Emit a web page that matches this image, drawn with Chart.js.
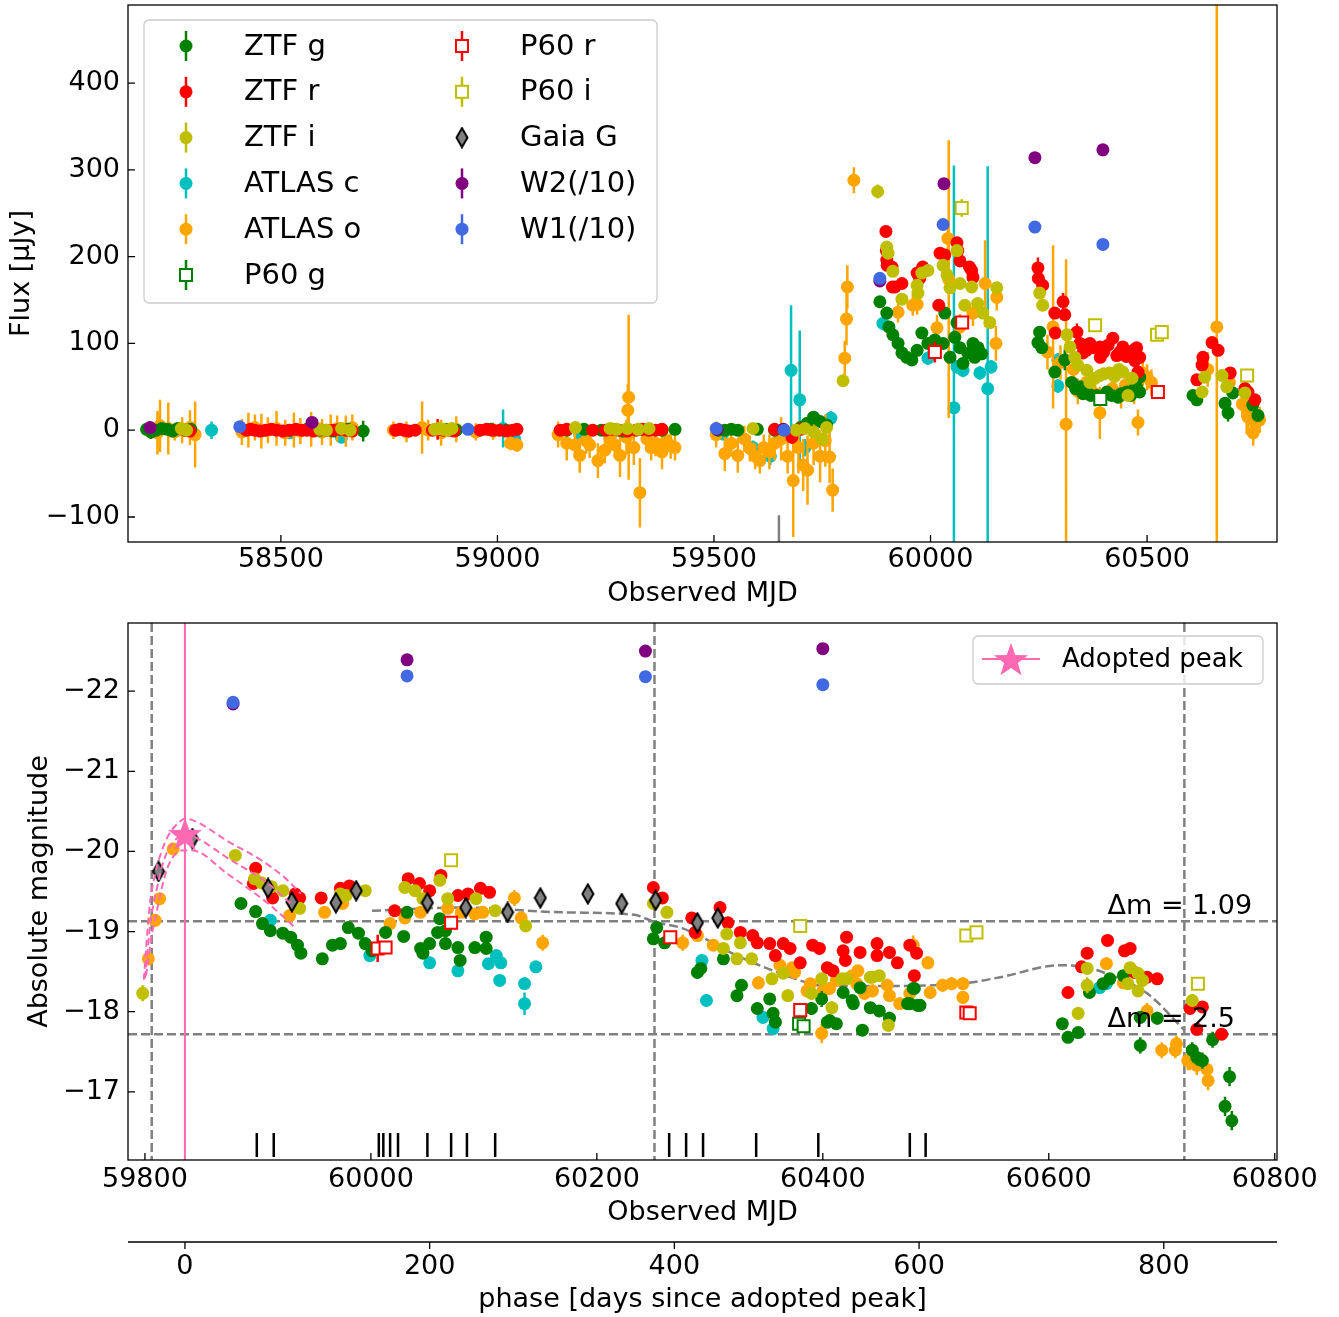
<!DOCTYPE html>
<html>
<head>
<meta charset="utf-8">
<title>Light curve: flux and absolute magnitude</title>
<script src="https://cdn.jsdelivr.net/npm/chart.js"></script>
<style>
  body { margin: 0; background: #ffffff; }
  #wrap { position: relative; width: 1339px; height: 1317px; }
  #wrap canvas { position: absolute; left: 0; }
</style>
</head>
<body>
<div id="wrap">
  <canvas id="fluxChart" width="1339" height="612" style="top:0px"></canvas>
  <canvas id="magChart" width="1339" height="717" style="top:600px"></canvas>
</div>
<script>
// ---------- top panel: flux in uJy, rows are [MJD, flux, error] ----------
const ztfG_flux = [[58190,1,4],[58200,-2,8],[58212,0,5],[58225,2,4],[58238,1,4],[58250,-1,4],[58262,2,5],[58280,0,4],[58292,1,4],
  [58520,0,4],[58560,1,4],[58590,0,5],[58620,-1,4],[58655,1,5],[58690,-1,12],
  [58880,1,4],[58905,0,4],[58985,1,5],[59020,0,4],
  [59160,0,4],[59200,1,4],[59240,0,4],[59290,-1,4],[59330,1,4],[59380,0,4],[59410,1,4],
  [59510,0,4],[59525,0,4],[59540,1,4],[59555,0,4],[59600,1,4],[59640,0,4],[59700,3,5],[59715,8,5],[59730,15,5],[59745,10,5],[59760,6,5],
  [59883,148,4],[59899,135,4],[59904,119,4],[59913,110,4],[59925,100,4],[59934,89,4],[59945,84,4],[59957,81,4],[59969,92,4],[59980,112,6],
  [59994,100,4],[60010,104,4],[60029,100,5],[60033,135,6],[60045,84,5],[60056,107,5],[60061,124,5],[60068,95,5],[60075,77,5],[60086,89,5],
  [60098,100,5],[60102,84,5],[60110,95,5],[60118,88,5],
  [60248,101,5],[60252,113,5],[60257,95,5],[60287,67,5],[60310,81,12],[60326,55,5],[60335,48,5],[60345,50,5],[60352,42,5],[60361,44,5],
  [60370,40,5],[60384,40,5],[60395,38,5],[60407,44,5],[60418,40,5],[60433,38,5],[60440,42,5],[60453,44,5],[60462,40,5],[60470,47,5],
  [60476,50,5],[60483,61,5],[60483,44,5],
  [60606,40,5],[60615,35,5],[60680,31,5],[60687,20,10],[60698,43,5],[60744,29,6],[60756,17,6]];
const ztfR_flux = [[58280,0,4],[58290,-1,4],
  [58420,0,4],[58430,1,4],[58440,0,4],[58452,-1,4],[58465,0,4],[58478,1,4],[58490,0,4],[58505,-1,4],[58520,0,4],[58535,1,4],
  [58548,0,4],[58560,0,4],[58575,-1,4],[58590,1,4],[58605,0,4],[58620,0,4],[58635,1,4],[58650,0,4],[58665,-1,4],
  [58765,0,4],[58775,1,4],[58785,0,4],[58795,-1,4],[58810,0,4],[58850,0,4],[58862,1,12],[58875,0,4],[58890,0,4],[58900,-1,4],
  [58960,0,4],[58975,1,4],[58990,0,4],[59005,0,4],[59020,-1,4],[59035,0,4],[59045,1,4],
  [59145,0,4],[59160,1,4],[59220,0,4],[59250,0,4],[59265,1,4],[59280,0,4],[59300,-1,4],[59320,0,4],[59335,1,4],[59350,0,4],[59365,0,4],[59380,1,4],
  [59640,1,4],[59680,-8,8],[59700,1,4],
  [59897,229,5],[59898,207,5],[59899,196,5],[59900,190,5],[59911,188,5],[59912,165,5],[59918,165,5],[59934,169,5],[59969,181,5],[59975,175,5],
  [59982,188,5],[60019,144,6],[60022,204,6],[60033,202,6],[60061,216,6],[60063,207,6],[60068,195,6],[60090,188,6],[60095,184,6],[60098,176,6],
  [60248,187,12],[60249,175,6],[60259,167,6],[60287,135,6],[60288,112,6],[60306,148,10],[60310,133,6],[60338,113,10],[60345,100,6],[60352,89,6],
  [60360,92,6],[60368,100,6],[60375,95,6],[60391,96,6],[60392,84,6],[60400,90,6],[60410,98,6],[60421,106,6],[60430,86,6],[60437,90,6],
  [60444,96,6],[60452,85,6],[60460,89,6],[60468,92,6],[60472,80,6],[60476,95,6],[60479,67,6],[60483,84,6],
  [60615,58,5],[60627,75,5],[60629,84,5],[60650,101,5],[60664,92,5],[60692,66,5],[60726,48,5],[60733,44,5],[60749,35,5]];
const ztfI_flux = [[58270,2,4],[58282,0,4],[58590,1,4],[58605,0,4],[58640,2,4],[58660,0,4],
  [58855,1,4],[58865,2,4],[58875,1,4],[58885,0,4],[58895,2,4],
  [59180,3,4],[59260,2,4],[59275,1,4],[59300,2,4],[59325,1,4],[59350,2,4],
  [59590,2,4],[59660,1,4],[59690,0,4],[59710,2,4],[59730,-2,4],[59750,-10,4],[59760,3,4],
  [59798,57,5],[59878,275,8],
  [59899,211,5],[59902,204,5],[59913,183,5],[59934,151,5],[59969,167,5],[59971,158,5],[59980,181,5],[59994,184,5],[60029,190,5],[60038,179,5],
  [60045,164,5],[60061,207,5],[60068,169,5],[60079,144,5],[60095,165,5],[60109,146,5],[60121,135,5],[60137,124,5],[60153,164,5],
  [60252,158,5],[60259,144,5],[60315,110,5],[60322,96,5],[60333,84,5],[60340,75,5],[60361,69,5],[60368,55,5],[60380,60,5],[60391,63,5],
  [60400,65,5],[60414,66,5],[60425,62,5],[60435,70,5],[60444,67,5],[60456,40,5],[60465,60,5],
  [60627,44,5],[60633,61,5],[60673,63,5],[60684,50,5],[60726,43,5]];
const atlasC_flux = [[58340,0,10],[58520,-3,6],[58640,-8,6],[59013,2,22],[59040,-10,8],[59190,-5,8],[59260,-8,8],[59520,-4,8],[59590,-20,8],
  [59630,-30,10],[59678,69,75],[59698,35,80],[59710,-20,10],[59770,14,8],[59890,123,8],[59994,83,8],[60054,26,279],[60061,73,8],[60075,69,8],
  [60114,66,8],[60132,48,256],[60140,73,8],[60294,81,8],[60294,51,8]];
const atlasO_flux = [[58198,0,10],[58215,-3,25],[58221,5,30],[58240,2,30],[58255,-2,10],[58272,0,15],[58290,3,20],[58302,-5,38],
  [58410,-2,15],[58425,0,20],[58440,3,15],[58455,-1,20],[58470,0,15],[58490,2,20],[58510,-3,15],[58530,0,20],[58545,-1,15],[58570,1,20],
  [58595,-2,15],[58615,0,18],[58630,2,15],[58650,-1,18],[58665,3,15],
  [58760,0,10],[58790,-2,12],[58826,3,30],[58840,0,12],[58870,-3,15],[58905,1,15],[58950,-2,10],[58990,-1,10],[59030,-15,8],[59045,-17,8],
  [59140,-5,15],[59160,-15,20],[59179,-17,15],[59190,-29,20],[59205,-12,15],[59213,-17,15],[59232,-35,20],[59248,-23,15],[59260,-10,15],
  [59271,-17,15],[59283,-29,25],[59298,-8,20],[59301,23,30],[59303,38,95],[59315,-20,20],[59329,-72,40],[59345,-10,15],[59355,-20,15],
  [59365,-15,15],[59380,-25,20],[59390,-12,15],[59400,-18,15],[59410,-20,15],
  [59505,-5,15],[59525,-27,20],[59540,-15,15],[59555,-29,20],[59570,-10,15],[59583,-21,15],[59595,-30,15],[59606,-35,15],[59615,-20,15],
  [59628,-25,20],[59640,-15,20],[59655,-10,25],[59670,-30,20],[59683,-58,65],[59695,-20,30],[59706,-40,30],[59716,-46,40],[59730,-15,25],
  [59745,-30,30],[59757,-12,30],[59767,-31,30],[59774,-69,25],
  [59802,83,20],[59806,128,30],[59808,165,25],[59823,288,15],
  [59925,136,12],[59959,144,12],[59969,145,12],[60015,118,15],[60040,221,20],[60042,174,160],[60068,119,15],[60098,135,15],[60126,169,50],
  [60151,100,20],[60153,153,15],
  [60270,90,20],[60283,119,94],[60300,78,20],[60313,7,190],[60330,70,15],[60340,45,15],[60360,55,15],[60380,42,15],[60391,20,30],[60420,48,15],
  [60440,40,15],[60450,52,15],[60470,45,15],[60479,9,15],[60490,66,15],[60500,61,15],[60510,55,15],
  [60640,70,20],[60661,119,380],[60690,55,15],[60720,30,15],[60730,25,30],[60733,15,20],[60745,-3,15],[60750,8,15],[60760,12,15]];
const p60g_flux = [[60392,36,4]];
const p60r_flux = [[60010,90,12],[60073,124,6],[60525,44,4]];
const p60i_flux = [[60072,256,10],[60380,121,5],[60523,110,4],[60534,113,4],[60731,63,4]];
const gaia_flux = [[59650,-160,62]];
const w2_flux = [[58198,3,0],[58572,9,0],[59507,1,0],[59660,1,0],[59883,172,0],[60031,284,0],[60241,314,0],[60398,323,0]];
const w1_flux = [[58405,4,0],[58932,1,0],[59505,2,0],[59662,0,0],[59883,175,0],[60029,237,0],[60241,234,0],[60398,214,0]];

// ---------- bottom panel: absolute magnitude, rows are [MJD, mag, error] ----------
const ztfG_mag = [[59885,-19.35,0.04],[59898,-19.25,0.04],[59904,-19.10,0.04],[59911,-19.01,0.04],[59922,-18.98,0.04],[59929,-18.93,0.04],
  [59935,-18.83,0.04],[59938,-18.73,0.04],[59957,-18.66,0.05],[59966,-18.83,0.04],[59973,-18.85,0.04],[59980,-19.05,0.04],[59989,-18.98,0.04],
  [59995,-18.85,0.04],[60001,-18.76,0.05],[60013,-18.99,0.05],[60029,-18.94,0.05],[60032,-19.24,0.05],[60044,-18.79,0.05],[60046,-18.73,0.05],
  [60052,-18.85,0.05],[60059,-18.99,0.06],[60061,-19.16,0.05],[60066,-19.01,0.05],[60066,-18.85,0.08],[60077,-18.80,0.05],[60079,-18.64,0.05],
  [60092,-18.80,0.05],[60102,-18.93,0.05],[60102,-18.79,0.07],
  [60250,-18.91,0.04],[60253,-19.05,0.04],[60260,-18.86,0.04],[60289,-18.49,0.04],[60292,-18.54,0.04],[60312,-18.66,0.05],[60324,-18.20,0.05],
  [60328,-18.33,0.05],[60342,-18.04,0.06],[60353,-18.16,0.06],[60356,-17.98,0.06],[60358,-17.87,0.06],[60381,-17.85,0.06],[60390,-18.04,0.08],
  [60399,-18.16,0.1],[60404,-17.87,0.06],[60406,-17.89,0.06],[60412,-17.85,0.06],[60418,-18.24,0.07],[60426,-18.14,0.06],[60427,-18.10,0.06],
  [60433,-18.30,0.06],[60435,-17.77,0.06],[60442,-18.05,0.06],[60450,-18.01,0.06],[60459,-17.92,0.08],[60475,-18.10,0.08],[60477,-18.10,0.08],
  [60480,-18.29,0.06],[60481,-18.29,0.06],[60484,-18.08,0.08],[60486,-18.08,0.08],
  [60612,-17.85,0.06],[60617,-17.68,0.06],[60626,-17.74,0.06],[60636,-18.24,0.06],[60648,-18.35,0.06],[60654,-18.41,0.06],[60666,-18.45,0.06],
  [60681,-17.93,0.08],[60681,-17.58,0.1],[60696,-17.92,0.08],[60727,-17.52,0.1],[60731,-17.43,0.1],[60736,-17.39,0.1],[60745,-17.65,0.1],
  [60760,-17.19,0.12],[60756,-16.82,0.12],[60762,-16.64,0.12]];
const ztfR_mag = [[59898,-19.79,0.03],[59897,-19.64,0.03],[59896,-19.60,0.03],[59913,-19.42,0.03],[59933,-19.47,0.03],[59937,-19.42,0.03],
  [59956,-19.42,0.03],[59973,-19.54,0.03],[59981,-19.57,0.03],[60021,-19.26,0.04],[60033,-19.66,0.03],[60043,-19.60,0.03],[60052,-19.51,0.03],
  [60062,-19.70,0.03],[60077,-19.45,0.03],[60086,-19.47,0.03],[60097,-19.54,0.03],[60105,-19.49,0.03],
  [60250,-19.55,0.03],[60258,-19.42,0.03],[60284,-19.17,0.04],[60287,-18.99,0.04],[60309,-19.30,0.05],[60316,-19.11,0.04],[60327,-18.99,0.04],
  [60338,-18.95,0.06],[60342,-18.86,0.04],[60353,-18.85,0.04],[60358,-18.70,0.06],[60365,-18.85,0.04],[60371,-18.79,0.04],[60380,-18.61,0.04],
  [60391,-18.83,0.06],[60397,-18.79,0.04],[60404,-18.55,0.04],[60409,-18.51,0.04],[60418,-18.76,0.04],[60420,-18.64,0.04],[60421,-18.93,0.04],
  [60433,-18.74,0.04],[60448,-18.85,0.04],[60448,-18.70,0.04],[60459,-18.74,0.04],[60466,-18.61,0.04],[60477,-18.83,0.04],[60481,-18.45,0.04],
  [60483,-18.73,0.04],
  [60617,-18.24,0.04],[60629,-18.56,0.05],[60634,-18.73,0.04],[60652,-18.89,0.04],[60667,-18.76,0.04],[60672,-18.79,0.04],[60676,-18.49,0.04],
  [60687,-18.43,0.04],[60696,-18.41,0.05],[60725,-18.04,0.06],[60731,-17.78,0.06],[60736,-18.06,0.06],[60753,-17.72,0.06]];
const ztfI_mag = [[59798,-18.23,0.1],[59880,-19.95,0.03],[59897,-19.66,0.03],[59903,-19.61,0.03],[59912,-19.56,0.03],[59922,-19.51,0.03],
  [59937,-19.29,0.03],[59973,-19.47,0.03],[59978,-19.45,0.03],[59995,-19.51,0.03],[60030,-19.55,0.03],[60039,-19.51,0.03],[60046,-19.41,0.03],
  [60061,-19.64,0.03],[60068,-19.41,0.03],[60093,-19.41,0.03],[60110,-19.26,0.03],[60137,-19.07,0.04],
  [60250,-19.35,0.04],[60262,-19.24,0.04],[60315,-18.97,0.05],[60327,-18.86,0.05],[60312,-18.79,0.05],[60324,-18.66,0.06],[60337,-18.66,0.06],
  [60355,-18.41,0.06],[60365,-18.48,0.06],[60369,-18.20,0.08],[60390,-18.23,0.08],[60399,-18.41,0.06],[60408,-18.05,0.08],[60417,-18.41,0.06],
  [60421,-18.41,0.06],[60442,-18.43,0.06],[60444,-18.43,0.06],[60450,-18.45,0.06],[60458,-17.83,0.08],
  [60626,-17.98,0.08],[60634,-18.33,0.1],[60634,-18.54,0.06],[60670,-18.35,0.06],[60672,-18.55,0.06],[60679,-18.48,0.06],[60679,-18.26,0.06],
  [60683,-18.39,0.06],[60727,-18.14,0.08]];
const atlasC_mag = [[59911,-19.14,0.05],[59999,-18.70,0.06],[60052,-18.61,0.06],[60077,-18.51,0.06],[60104,-18.60,0.06],[60111,-18.70,0.06],
  [60115,-18.61,0.06],[60114,-18.39,0.07],[60136,-18.35,0.08],[60136,-18.10,0.14],[60146,-18.56,0.06],[60293,-18.64,0.07],[60297,-18.14,0.08],
  [60347,-17.93,0.08],[60356,-17.79,0.08],[60645,-18.30,0.06],[60651,-18.35,0.06]];
const atlasO_mag = [[59803,-18.66,0.08],[59809,-19.14,0.08],[59813,-19.41,0.06],[59825,-20.03,0.05],[59928,-19.20,0.05],[59959,-19.24,0.05],
  [59975,-19.35,0.05],[60017,-19.10,0.06],[60030,-19.17,0.05],[60044,-19.24,0.05],[60068,-19.29,0.05],[60080,-19.24,0.05],[60092,-19.22,0.05],
  [60099,-19.24,0.05],[60127,-19.42,0.1],[60133,-19.17,0.06],[60152,-18.86,0.1],
  [60276,-18.86,0.1],[60289,-18.95,0.06],[60303,-18.83,0.06],[60343,-18.36,0.08],[60362,-18.58,0.06],[60373,-18.55,0.06],[60375,-18.49,0.06],
  [60386,-18.26,0.08],[60389,-18.35,0.06],[60399,-17.73,0.12],[60400,-18.26,0.08],[60406,-18.29,0.08],[60412,-18.39,0.06],[60426,-18.45,0.06],
  [60430,-18.35,0.08],[60431,-18.51,0.06],[60437,-18.23,0.08],[60444,-18.26,0.08],[60457,-18.33,0.08],[60459,-18.20,0.08],[60468,-18.10,0.08],
  [60477,-18.23,0.08],[60480,-18.83,0.12],[60493,-18.61,0.08],[60495,-18.24,0.08],[60506,-18.33,0.08],[60514,-18.35,0.08],[60524,-18.18,0.08],
  [60524,-18.35,0.08],
  [60651,-18.60,0.08],[60666,-18.36,0.08],[60687,-18.01,0.1],[60700,-17.52,0.1],[60712,-17.52,0.1],[60713,-17.60,0.1],[60723,-17.39,0.12],
  [60725,-17.39,0.12],[60731,-17.33,0.12],[60740,-17.28,0.12],[60741,-17.14,0.12]];
const p60g_mag = [[60379,-17.85,0.03],[60383,-17.82,0.03]];
const p60r_mag = [[60006,-18.79,0.17],[60013,-18.80,0.05],[60071,-19.11,0.03],[60265,-18.93,0.03],[60380,-18.02,0.03],[60527,-17.99,0.03],[60530,-17.98,0.03]];
const p60i_mag = [[60071,-19.89,0.03],[60380,-19.07,0.03],[60527,-18.95,0.03],[60536,-18.99,0.03],[60732,-18.35,0.03]];
const gaia_mag = [[59812,-19.75,0],[59842,-20.16,0],[59909,-19.54,0],[59930,-19.37,0],[59969,-19.36,0],[59987,-19.51,0],[60050,-19.36,0],
  [60084,-19.30,0],[60121,-19.24,0],[60150,-19.42,0],[60192,-19.47,0],[60222,-19.35,0],[60252,-19.39,0],[60289,-19.11,0],[60307,-19.17,0]];
const w2_mag = [[59878,-21.84,0],[60032,-22.39,0],[60243,-22.50,0],[60400,-22.53,0]];
const w1_mag = [[59878,-21.86,0],[60032,-22.19,0],[60243,-22.18,0],[60400,-22.08,0]];

// model curves, [MJD, mag]
const modelCurve = [[60001,-19.26],[60082,-19.30],[60169,-19.24],[60233,-19.21],[60251,-19.12],[60276,-19.04],[60327,-18.68],[60380,-18.39],
  [60395,-18.33],[60450,-18.32],[60528,-18.36],[60557,-18.43],[60610,-18.58],[60627,-18.57],[60654,-18.46],[60687,-18.23],[60720,-17.77]];
const peakBandHi = [[59799,-18.40],[59804,-19.30],[59809,-19.72],[59814,-19.97],[59820,-20.18],[59827,-20.32],[59836,-20.41],[59847,-20.36],
  [59873,-20.13],[59903,-19.89],[59924,-19.67],[59938,-19.47]];
const peakBandMid = [[59800,-18.42],[59805,-19.12],[59810,-19.50],[59817,-19.90],[59826,-20.13],[59836,-20.22],[59848,-20.15],[59873,-19.92],
  [59909,-19.60],[59929,-19.35]];
const peakBandLo = [[59801,-18.45],[59806,-18.95],[59810,-19.22],[59815,-19.55],[59820,-19.80],[59826,-19.95],[59832,-20.01],[59842,-20.01],
  [59873,-19.72],[59909,-19.35],[59933,-19.05]];

const peakMJD = 59835.4;
const peakMag = -20.22;
const redshift = 0.083;
const epochLines = [59806, 60251, 60720];
const deltaMags = [1.09, 2.5];
const deltaLabelMJD = 60652;
const spectraMJD = [59899, 59914, 60007, 60011, 60017, 60024, 60050, 60071, 60085, 60110, 60264, 60279, 60294, 60341, 60396, 60477, 60491];

const fluxTicks = [-100, 0, 100, 200, 300, 400];
const fluxMjdTicks = [58500, 59000, 59500, 60000, 60500];
const magTicks = [-22, -21, -20, -19, -18, -17];
const magMjdTicks = [59800, 60000, 60200, 60400, 60600, 60800];
const phaseTicks = [0, 200, 400, 600, 800];

Chart.defaults.font.family = "'DejaVu Sans', sans-serif";
Chart.defaults.font.size = 27;
Chart.defaults.color = '#000';

const FONT = "'DejaVu Sans', sans-serif";
const fmt = v => (v < 0 ? '\u2212' + Math.abs(v) : String(v));

// thin diamond marker for Gaia
function thinDiamond() {
  const c = document.createElement('canvas');
  c.width = 14; c.height = 22;
  const g = c.getContext('2d');
  g.beginPath();
  g.moveTo(7, 1.5); g.lineTo(12.5, 11); g.lineTo(7, 20.5); g.lineTo(1.5, 11); g.closePath();
  g.fillStyle = '#808080'; g.fill();
  g.lineWidth = 2; g.strokeStyle = '#000'; g.stroke();
  return c;
}
// five pointed star for the adopted peak
function starMarker(R) {
  const size = Math.ceil(2 * R + 4);
  const c = document.createElement('canvas');
  c.width = c.height = size;
  const g = c.getContext('2d');
  const cx = size / 2, cy = size / 2 + R * 0.1;
  g.beginPath();
  for (let k = 0; k < 10; k++) {
    const r = k % 2 ? R * 0.4 : R;
    const t = -Math.PI / 2 + k * Math.PI / 5;
    g.lineTo(cx + r * Math.cos(t), cy + r * Math.sin(t));
  }
  g.closePath();
  g.fillStyle = '#ff69b4'; g.fill();
  return c;
}
const gaiaImg = thinDiamond();
const starImg = starMarker(18);

// draw order: first in this list is drawn first (bottom)
const series = [
  {label: 'ATLAS c', color: '#00bfbf', flux: atlasC_flux, mag: atlasC_mag},
  {label: 'ATLAS o', color: '#ffa500', flux: atlasO_flux, mag: atlasO_mag},
  {label: 'ZTF g', color: '#008000', flux: ztfG_flux, mag: ztfG_mag},
  {label: 'ZTF r', color: '#ff0000', flux: ztfR_flux, mag: ztfR_mag},
  {label: 'ZTF i', color: '#bfbf00', flux: ztfI_flux, mag: ztfI_mag},
  {label: 'P60 g', color: '#008000', square: true, flux: p60g_flux, mag: p60g_mag},
  {label: 'P60 r', color: '#ff0000', square: true, flux: p60r_flux, mag: p60r_mag},
  {label: 'P60 i', color: '#bfbf00', square: true, flux: p60i_flux, mag: p60i_mag},
  {label: 'Gaia G', color: '#808080', diamond: true, flux: gaia_flux, mag: gaia_mag},
  {label: 'W2(/10)', color: '#800080', flux: w2_flux, mag: w2_mag},
  {label: 'W1(/10)', color: '#4169e1', flux: w1_flux, mag: w1_mag}
];
const legendOrder = ['ZTF g', 'ZTF r', 'ZTF i', 'ATLAS c', 'ATLAS o', 'P60 g', 'P60 r', 'P60 i', 'Gaia G', 'W2(/10)', 'W1(/10)'];

function pointSets(key) {
  return series.map((s, i) => ({
    type: 'scatter',
    label: s.label,
    data: s[key].map(r => ({x: r[0], y: r[1], e: r[2]})),
    pointStyle: s.diamond ? gaiaImg : (s.square ? 'rect' : 'circle'),
    pointRadius: s.square ? 8.5 : 6.5,
    backgroundColor: s.square ? '#ffffff' : s.color,
    borderColor: s.color,
    borderWidth: s.square ? 2 : 0,
    errColor: s.color,
    order: 100 - i,
    clip: 0
  }));
}

function clipTo(ctx, a) {
  ctx.beginPath();
  ctx.rect(a.left, a.top, a.right - a.left, a.bottom - a.top);
  ctx.clip();
}

const errorBars = {
  id: 'errorBars',
  beforeDatasetDraw(chart, args) {
    const ds = chart.data.datasets[args.index];
    if (!ds.errColor) return;
    const {ctx, chartArea: a, scales: {x, y}} = chart;
    ctx.save();
    clipTo(ctx, a);
    ctx.strokeStyle = ds.errColor;
    ctx.lineWidth = 2.5;
    ctx.beginPath();
    ds.data.forEach(p => {
      if (!p.e) return;
      const px = x.getPixelForValue(p.x);
      ctx.moveTo(px, y.getPixelForValue(p.y - p.e));
      ctx.lineTo(px, y.getPixelForValue(p.y + p.e));
    });
    ctx.stroke();
    ctx.restore();
  }
};

const frame = {
  id: 'frame',
  afterDatasetsDraw(chart) {
    const {ctx, chartArea: a, scales} = chart;
    ctx.save();
    ctx.strokeStyle = '#000';
    ctx.lineWidth = 1.3;
    ctx.strokeRect(a.left, a.top, a.right - a.left, a.bottom - a.top);
    ctx.beginPath();
    scales.x.ticks.forEach(t => {
      const px = scales.x.getPixelForValue(t.value);
      ctx.moveTo(px, a.bottom); ctx.lineTo(px, a.bottom - 7);
    });
    scales.y.ticks.forEach(t => {
      const py = scales.y.getPixelForValue(t.value);
      ctx.moveTo(a.left, py); ctx.lineTo(a.left + 7, py);
    });
    if (scales.phase) {
      const s = scales.phase;
      ctx.moveTo(a.left, s.top); ctx.lineTo(a.right, s.top);
      s.ticks.forEach(t => {
        const px = s.getPixelForValue(t.value);
        ctx.moveTo(px, s.top); ctx.lineTo(px, s.top + 7);
      });
    }
    ctx.stroke();
    ctx.restore();
  }
};

function roundBox(ctx, x, y, w, h, r) {
  ctx.beginPath();
  ctx.moveTo(x + r, y);
  ctx.arcTo(x + w, y, x + w, y + h, r);
  ctx.arcTo(x + w, y + h, x, y + h, r);
  ctx.arcTo(x, y + h, x, y, r);
  ctx.arcTo(x, y, x + w, y, r);
  ctx.closePath();
}

function legendMarker(ctx, s, mx, my) {
  if (s.diamond) {
    ctx.drawImage(gaiaImg, mx - gaiaImg.width / 2, my - gaiaImg.height / 2);
    return;
  }
  ctx.strokeStyle = s.color;
  ctx.lineWidth = 2.5;
  ctx.beginPath(); ctx.moveTo(mx, my - 15); ctx.lineTo(mx, my + 15); ctx.stroke();
  if (s.square) {
    ctx.fillStyle = '#ffffff';
    ctx.fillRect(mx - 6, my - 6, 12, 12);
    ctx.lineWidth = 2;
    ctx.strokeRect(mx - 6, my - 6, 12, 12);
  } else {
    ctx.fillStyle = s.color;
    ctx.beginPath(); ctx.arc(mx, my, 6.5, 0, 2 * Math.PI); ctx.fill();
  }
}

const fluxLegend = {
  id: 'fluxLegend',
  afterDatasetsDraw(chart) {
    const {ctx, chartArea: a} = chart;
    const bx = a.left + 16, by = a.top + 15, bw = 513, bh = 283;
    ctx.save();
    roundBox(ctx, bx, by, bw, bh, 5);
    ctx.fillStyle = 'rgba(255,255,255,0.8)'; ctx.fill();
    ctx.strokeStyle = '#cccccc'; ctx.lineWidth = 1.3; ctx.stroke();
    ctx.font = '29px ' + FONT;
    ctx.textBaseline = 'middle';
    legendOrder.forEach((name, k) => {
      const s = series.find(d => d.label === name);
      const col = k < 6 ? 0 : 1, row = k < 6 ? k : k - 6;
      const mx = bx + 42 + col * 276, my = by + 26 + row * 45.8;
      legendMarker(ctx, s, mx, my);
      ctx.fillStyle = '#000';
      ctx.fillText(name, mx + 58, my + 1);
    });
    ctx.restore();
  }
};

const magRefs = {
  id: 'magRefs',
  beforeDatasetsDraw(chart) {
    const {ctx, chartArea: a, scales: {x, y}} = chart;
    ctx.save();
    clipTo(ctx, a);
    ctx.strokeStyle = '#808080'; ctx.lineWidth = 2.5; ctx.setLineDash([9, 4]);
    ctx.beginPath();
    epochLines.forEach(m => {
      const px = x.getPixelForValue(m);
      ctx.moveTo(px, a.top); ctx.lineTo(px, a.bottom);
    });
    deltaMags.forEach(d => {
      const py = y.getPixelForValue(peakMag + d);
      ctx.moveTo(a.left, py); ctx.lineTo(a.right, py);
    });
    ctx.stroke();
    ctx.setLineDash([]);
    ctx.strokeStyle = '#ff69b4'; ctx.lineWidth = 2;
    const pk = x.getPixelForValue(peakMJD);
    ctx.beginPath(); ctx.moveTo(pk, a.top); ctx.lineTo(pk, a.bottom); ctx.stroke();
    ctx.strokeStyle = '#000'; ctx.lineWidth = 2.5;
    ctx.beginPath();
    spectraMJD.forEach(m => {
      const px = x.getPixelForValue(m);
      ctx.moveTo(px, a.bottom - 27); ctx.lineTo(px, a.bottom - 3);
    });
    ctx.stroke();
    ctx.restore();
  }
};

const magNotes = {
  id: 'magNotes',
  afterDatasetsDraw(chart) {
    const {ctx, chartArea: a, scales: {x, y}} = chart;
    ctx.save();
    ctx.font = '27px ' + FONT;
    ctx.fillStyle = '#000';
    ctx.textBaseline = 'alphabetic';
    deltaMags.forEach(d => {
      ctx.fillText('\u0394m = ' + d, x.getPixelForValue(deltaLabelMJD), y.getPixelForValue(peakMag + d) - 7);
    });
    // legend
    const bw = 290, bh = 48, bx = a.right - 14 - bw, by = a.top + 13;
    roundBox(ctx, bx, by, bw, bh, 5);
    ctx.fillStyle = 'rgba(255,255,255,0.8)'; ctx.fill();
    ctx.strokeStyle = '#cccccc'; ctx.lineWidth = 1.3; ctx.stroke();
    const my = by + 23;
    ctx.strokeStyle = '#ff69b4'; ctx.lineWidth = 2;
    ctx.beginPath(); ctx.moveTo(bx + 9, my); ctx.lineTo(bx + 67, my); ctx.stroke();
    ctx.drawImage(starImg, bx + 38 - starImg.width / 2, my - starImg.height / 2);
    ctx.font = '26px ' + FONT;
    ctx.fillStyle = '#000';
    ctx.textBaseline = 'middle';
    ctx.fillText('Adopted peak', bx + 89, my + 1);
    ctx.restore();
  }
};

function fixedTicks(list) {
  return s => { s.ticks = list.map(v => ({value: v})); };
}
// fixed axis box sizes; no extra label padding so the plot box lands where it should
function fixWidth(w) {
  return s => { s.width = w; s.paddingTop = 0; s.paddingBottom = 0; };
}
function fixHeight(h) {
  return s => { s.height = h; };
}
const tickFont = {size: 27};

// ---------- top chart ----------
new Chart(document.getElementById('fluxChart'), {
  type: 'scatter',
  data: {datasets: pointSets('flux')},
  options: {
    responsive: false, animation: false, events: [],
    layout: {autoPadding: false, padding: {top: 5, right: 62, left: 0, bottom: 0}},
    plugins: {legend: {display: false}, tooltip: {enabled: false}},
    scales: {
      x: {
        type: 'linear', position: 'bottom', min: 58147, max: 60800,
        afterBuildTicks: fixedTicks(fluxMjdTicks),
        afterFit: fixHeight(70),
        grid: {display: false, drawTicks: false}, border: {display: false},
        ticks: {padding: 2, autoSkip: false, maxRotation: 0, font: tickFont, color: '#000', callback: fmt},
        title: {display: true, text: 'Observed MJD', font: {size: 27}, color: '#000', padding: {top: 0, bottom: 2}}
      },
      y: {
        type: 'linear', position: 'left', min: -128.8, max: 489.9,
        afterBuildTicks: fixedTicks(fluxTicks),
        afterFit: fixWidth(128),
        grid: {display: false, drawTicks: false}, border: {display: false},
        ticks: {padding: 8, font: tickFont, color: '#000', callback: fmt},
        title: {display: true, text: 'Flux [\u03bcJy]', font: {size: 27}, color: '#000', padding: {top: 6, bottom: 0}}
      }
    }
  },
  plugins: [errorBars, frame, fluxLegend]
});

// ---------- bottom chart ----------
const lineSet = (pts, color, width, dash, order) => ({
  type: 'line',
  data: pts.map(r => ({x: r[0], y: r[1]})),
  borderColor: color, borderWidth: width, borderDash: dash,
  pointRadius: 0, fill: false, cubicInterpolationMode: 'monotone', order: order, clip: 0
});
const magMjdMin = 59785, magMjdMax = 60802;
const magSets = [lineSet(modelCurve, '#808080', 2.5, [9, 4], 500)]
  .concat(pointSets('mag'))
  .concat([
    lineSet(peakBandHi, '#ff69b4', 2, [7, 4], 3),
    lineSet(peakBandMid, '#ff69b4', 2, [7, 4], 3),
    lineSet(peakBandLo, '#ff69b4', 2, [7, 4], 3),
    {type: 'scatter', label: 'Adopted peak', data: [{x: peakMJD, y: peakMag}], pointStyle: starImg, pointRadius: 18, order: 1, clip: 0}
  ]);

new Chart(document.getElementById('magChart'), {
  type: 'scatter',
  data: {datasets: magSets},
  options: {
    responsive: false, animation: false, events: [],
    layout: {autoPadding: false, padding: {top: 23, right: 62, left: 0, bottom: 0}},
    plugins: {legend: {display: false}, tooltip: {enabled: false}},
    scales: {
      x: {
        type: 'linear', position: 'bottom', weight: 0, min: magMjdMin, max: magMjdMax,
        afterBuildTicks: fixedTicks(magMjdTicks),
        afterFit: fixHeight(82),
        grid: {display: false, drawTicks: false}, border: {display: false},
        ticks: {padding: 4, autoSkip: false, maxRotation: 0, font: tickFont, color: '#000', callback: fmt},
        title: {display: true, text: 'Observed MJD', font: {size: 27}, color: '#000', padding: {top: 0, bottom: 13}}
      },
      phase: {
        type: 'linear', position: 'bottom', weight: 1,
        min: (magMjdMin - peakMJD) / (1 + redshift), max: (magMjdMax - peakMJD) / (1 + redshift),
        afterBuildTicks: fixedTicks(phaseTicks),
        afterFit: fixHeight(75),
        grid: {display: false, drawTicks: false}, border: {display: false},
        ticks: {padding: 9, autoSkip: false, maxRotation: 0, font: tickFont, color: '#000', callback: fmt},
        title: {display: true, text: 'phase [days since adopted peak]', font: {size: 27}, color: '#000', padding: {top: 0, bottom: 1}}
      },
      y: {
        type: 'linear', position: 'left', reverse: true, min: -22.85, max: -16.15,
        afterBuildTicks: fixedTicks(magTicks),
        afterFit: fixWidth(128),
        grid: {display: false, drawTicks: false}, border: {display: false},
        ticks: {padding: 8, font: tickFont, color: '#000', callback: fmt},
        title: {display: true, text: 'Absolute magnitude', font: {size: 27}, color: '#000', padding: {top: 24, bottom: 0}}
      }
    }
  },
  plugins: [magRefs, errorBars, frame, magNotes]
});
</script>
</body>
</html>
